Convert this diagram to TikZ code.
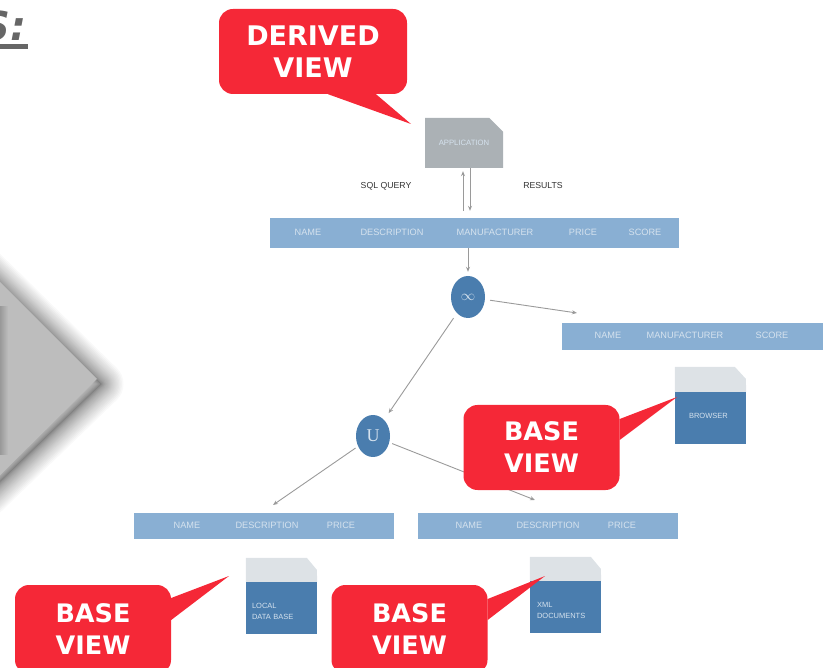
\documentclass[tikz,border=0pt]{standalone}
\usepackage{fontspec}
\setmainfont{Liberation Sans}
\newfontfamily\calloutfont{DejaVu Sans}
\newfontfamily\opfont{Liberation Serif}
\usetikzlibrary{positioning,arrows.meta,shapes.misc,shapes.geometric}
\definecolor{calloutred}{HTML}{F52837}
\definecolor{barblue}{HTML}{89AFD3}
\definecolor{docblue}{HTML}{4A7DAE}
\definecolor{doclight}{HTML}{DDE2E6}
\definecolor{appgray}{HTML}{ABB1B5}
\definecolor{labellight}{HTML}{D5E2EE}
\definecolor{flowgray}{HTML}{9A9A9A}
\begin{document}
\begin{tikzpicture}[x=1pt, y=-1pt,
    callout/.style={rectangle, fill=calloutred, rounded corners=14pt, minimum width=156pt, minimum height=85pt, inner sep=0pt, align=center, text=white, font=\calloutfont\bfseries\fontsize{25.5}{32}\selectfont},
    wedge/.style={fill=calloutred},
    bar/.style={rectangle, fill=barblue, inner sep=0pt},
    barlabel/.style={text=labellight, inner sep=0pt, font=\fontsize{9.2}{11}\selectfont},
    dockbody/.style={rectangle, fill=docblue, minimum width=71pt, minimum height=52pt, inner sep=0pt, text depth=5pt, text=labellight, align=left, font=\fontsize{7.5}{11.5}\selectfont},
    docktop/.style={fill=doclight},
    op/.style={ellipse, fill=docblue, minimum width=34pt, minimum height=42pt, inner sep=0pt, text=labellight},
    flow/.style={-{Stealth[length=5pt,width=4pt]}, flowgray, line width=0.9pt},
    querylabel/.style={text=black!80, inner sep=0pt, font=\fontsize{8.7}{10}\selectfont},
    glow/.style={black, opacity=0.022, line join=round}]

\useasboundingbox (0,0) rectangle (828,668);

\foreach \i in {1,2,...,30}
  \draw[glow, line width=\i*\i/20 pt] (-40,246) -- (101,384) -- (-40,520) -- cycle;
\fill[black!26] (-40,242) -- (97,379) -- (-40,515) -- cycle;
\shade[left color=black!40, right color=black!26] (0,307) rectangle (8,455);

\node[anchor=base east, inner sep=0pt, text=black!60, font=\calloutfont\bfseries\itshape\fontsize{40}{40}\selectfont] (title) at (27,41) {S:};
\fill[black!60] (0,44) rectangle (28,49);

\node[chamfered rectangle, chamfered rectangle corners=north east, chamfered rectangle xsep=10pt, chamfered rectangle ysep=11pt, fill=appgray, minimum width=78pt, minimum height=50pt, inner sep=0pt, text=labellight, font=\fontsize{7.7}{9}\selectfont] (app) at (464,143) {APPLICATION};
\node[querylabel] (query) at (386,186) {SQL QUERY};
\node[querylabel] (results) at (543,186) {RESULTS};

\node[bar, minimum width=409pt, minimum height=30pt] (mainbar) at (474.5,233) {};
\node[barlabel] (mainname) at (308,232) {NAME};
\node[barlabel] (maindesc) at (392,232) {DESCRIPTION};
\node[barlabel] (mainmanu) at (495,232) {MANUFACTURER};
\node[barlabel] (mainprice) at (583,232) {PRICE};
\node[barlabel] (mainscore) at (645,232) {SCORE};

\node[op, font=\fontsize{15}{15}\selectfont] (join) at (468,297) {$\infty$};
\node[op, font=\opfont\fontsize{18}{18}\selectfont] (union) at (373,436) {U};

\node[bar, minimum width=261pt, minimum height=27pt] (rightbar) at (692.5,336.5) {};
\node[barlabel] (rightname) at (608,335) {NAME};
\node[barlabel] (rightmanu) at (685,335) {MANUFACTURER};
\node[barlabel] (rightscore) at (772,335) {SCORE};

\node[bar, minimum width=260pt, minimum height=26pt] (localbar) at (264,526) {};
\node[barlabel] (localname) at (187,525) {NAME};
\node[barlabel] (localdesc) at (267,525) {DESCRIPTION};
\node[barlabel] (localprice) at (341,525) {PRICE};

\node[bar, minimum width=260pt, minimum height=26pt] (xmlbar) at (548,526) {};
\node[barlabel] (xmlname) at (469,525) {NAME};
\node[barlabel] (xmldesc) at (548,525) {DESCRIPTION};
\node[barlabel] (xmlprice) at (622,525) {PRICE};

\node[dockbody, text width=43pt] (browser) at (710.5,418) {BROWSER};
\fill[docktop] (browser.north west) -- ++(0,-25) -- ++(60,0) -- ++(11,12) -- (browser.north east) -- cycle;
\node[dockbody, text width=59pt] (localdoc) at (281.5,608) {LOCAL\\DATA BASE};
\fill[docktop] (localdoc.north west) -- ++(0,-24) -- ++(61,0) -- ++(10,12) -- (localdoc.north east) -- cycle;
\node[dockbody, text width=57pt] (xmldoc) at (565.5,607) {XML\\DOCUMENTS};
\fill[docktop] (xmldoc.north west) -- ++(0,-24) -- ++(61,0) -- ++(10,12) -- (xmldoc.north east) -- cycle;

\coordinate (righttip) at (577,313);
\coordinate (localtip) at (273,505);
\coordinate (xmltip) at (535,500);

\draw[flow, shorten >=7pt] ([xshift=6pt]app.south) -- ([xshift=6pt]app.south |- mainbar.north);
\draw[flow, shorten <=7pt, shorten >=3pt] ([xshift=-1pt]app.south |- mainbar.north) -- ([xshift=-1pt]app.south);
\draw[flow, shorten >=4pt] (mainbar.south -| join) -- (join);
\draw[flow, shorten <=5pt] (join) -- (righttip);
\draw[flow, shorten <=6pt, shorten >=8pt] (join) -- (union);
\draw[flow, shorten <=3pt] (union) -- (localtip);
\draw[flow, shorten <=3pt] (union) -- (xmltip);

\node[callout, minimum width=188pt, font=\calloutfont\bfseries\fontsize{27}{32}\selectfont] (derived) at (313,51.5) {DERIVED\\VIEW};
\node[callout] (basebrowser) at (541.5,447.5) {BASE\\VIEW};
\node[callout, minimum height=89pt] (baselocal) at (93,629.5) {BASE\\VIEW};
\node[callout, minimum height=89pt] (basexml) at (409.5,629.5) {BASE\\VIEW};

\coordinate (derivedtip) at (411,124);
\coordinate (browsertip) at (677,397);
\coordinate (localdoctip) at (229,576);
\coordinate (xmldoctip) at (545,576);

\fill[wedge] ([xshift=15pt]derived.south) -- (derivedtip) -- ([xshift=63pt]derived.south) -- cycle;
\fill[wedge] ([yshift=28.5pt]basebrowser.east) -- (browsertip) -- ([yshift=7.5pt]basebrowser.east) -- cycle;
\fill[wedge] ([yshift=31.5pt]baselocal.east) -- (localdoctip) -- ([yshift=9.5pt]baselocal.east) -- cycle;
\fill[wedge] ([yshift=30.5pt]basexml.east) -- (xmldoctip) -- ([yshift=9.5pt]basexml.east) -- cycle;
\end{tikzpicture}
\end{document}
